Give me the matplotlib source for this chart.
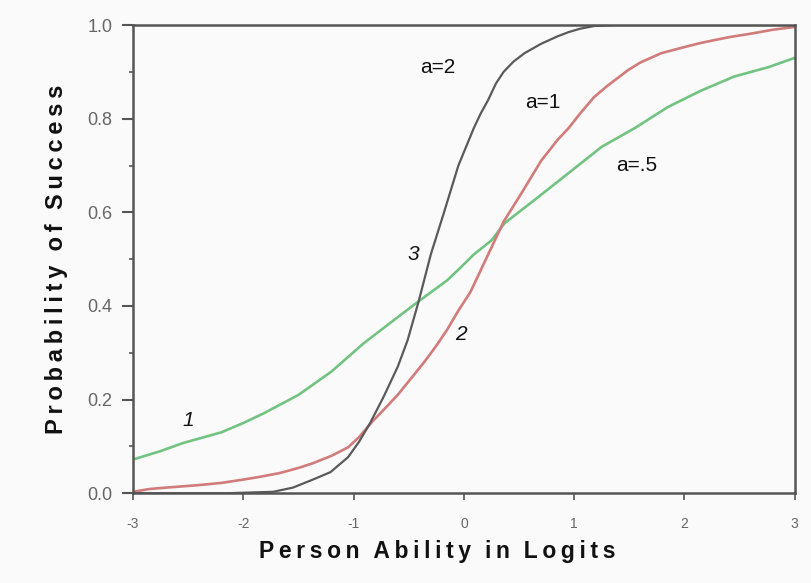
import matplotlib
matplotlib.use("Agg")
import matplotlib.pyplot as plt
from matplotlib.ticker import MultipleLocator

# curves (logits, probability)
x_a2 = [-3.0, -2.15, -1.73, -1.55, -1.36, -1.21, -1.05, -0.95, -0.85, -0.73,
        -0.60, -0.51, -0.41, -0.30, -0.18, -0.05, 0.02, 0.09, 0.15, 0.22,
        0.29, 0.36, 0.45, 0.55, 0.70, 0.85, 0.95, 1.05, 1.18, 1.40, 2.0, 3.0]
p_a2 = [0.0, 0.0, 0.003, 0.012, 0.030, 0.045, 0.077, 0.11, 0.15, 0.205,
        0.27, 0.327, 0.41, 0.51, 0.60, 0.70, 0.74, 0.78, 0.81, 0.84,
        0.875, 0.90, 0.922, 0.94, 0.96, 0.976, 0.985, 0.992, 0.998, 1.0, 1.0, 1.0]

x_a1 = [-3.0, -2.85, -2.7, -2.42, -2.2, -2.03, -1.85, -1.67, -1.5, -1.37,
        -1.2, -1.05, -0.95, -0.83, -0.72, -0.60, -0.48, -0.36, -0.25, -0.15,
        -0.05, 0.06, 0.22, 0.36, 0.52, 0.70, 0.85, 0.95, 1.05, 1.18, 1.30,
        1.49, 1.60, 1.79, 1.95, 2.15, 2.40, 2.61, 2.80, 3.0]
p_a1 = [0.003, 0.009, 0.012, 0.017, 0.022, 0.028, 0.035, 0.043, 0.054, 0.064,
        0.08, 0.098, 0.12, 0.153, 0.18, 0.21, 0.245, 0.28, 0.315, 0.35,
        0.39, 0.43, 0.51, 0.58, 0.64, 0.71, 0.755, 0.78, 0.81, 0.846, 0.87,
        0.904, 0.92, 0.94, 0.95, 0.962, 0.974, 0.982, 0.99, 0.996]

x_a05 = [-3.0, -2.75, -2.55, -2.2, -2.0, -1.82, -1.5, -1.2, -0.91, -0.60,
         -0.41, -0.15, -0.03, 0.09, 0.25, 0.37, 0.66, 0.95, 1.25, 1.55, 1.85,
         2.15, 2.45, 2.76, 3.0]
p_a05 = [0.072, 0.09, 0.107, 0.13, 0.15, 0.17, 0.21, 0.26, 0.32, 0.376,
         0.41, 0.455, 0.482, 0.51, 0.54, 0.577, 0.63, 0.684, 0.74, 0.78, 0.825,
         0.86, 0.89, 0.91, 0.93]

x_ticks = [-3, -2, -1, 0, 1, 2, 3]
y_ticks = [0.0, 0.2, 0.4, 0.6, 0.8, 1.0]

plt.rcParams["font.family"] = ["Liberation Sans", "DejaVu Sans"]
plt.rcParams["axes.unicode_minus"] = False

BG = "#fafafa"
SPINE = "#555555"


def spaced(text):
    # fake letter spacing with thin spaces
    words = text.split(" ")
    return "\u2009\u2009\u2009".join("\u2009".join(w) for w in words)


fig = plt.figure(figsize=(8.11, 5.83), dpi=100, facecolor=BG)
ax = fig.add_axes([0.164, 0.154, 0.816, 0.803])
ax.set_facecolor(BG)

ax.plot(x_a05, p_a05, color="#72c382", linewidth=1.9, solid_joinstyle="round")
ax.plot(x_a1, p_a1, color="#d17b7b", linewidth=1.9, solid_joinstyle="round")
ax.plot(x_a2, p_a2, color="#5a5a5a", linewidth=1.6, solid_joinstyle="round")

ax.set_xlim(-3, 3)
ax.set_ylim(0, 1)
ax.set_xticks(x_ticks)
ax.set_xticklabels([str(t) for t in x_ticks])
ax.set_yticks(y_ticks)
ax.set_yticklabels([f"{t:.1f}" for t in y_ticks])
ax.yaxis.set_minor_locator(MultipleLocator(0.1))

for side in ["left", "bottom", "top", "right"]:
    ax.spines[side].set_color(SPINE)
    ax.spines[side].set_linewidth(1.8)

ax.tick_params(axis="y", which="major", direction="out", length=8, width=1.5,
               color=SPINE, labelcolor="#666666", labelsize=13, pad=7)
ax.tick_params(axis="y", which="minor", direction="out", length=3, width=1.2,
               color=SPINE)
ax.tick_params(axis="x", which="major", direction="out", length=5, width=1.2,
               color=SPINE, labelcolor="#666666", labelsize=10, pad=12)

ax.set_xlabel(spaced("Person Ability in Logits"), fontsize=16.5,
              fontweight="bold", color="#111111", labelpad=8)
ax.xaxis.set_label_coords(0.46, -0.1)
ax.set_ylabel(spaced("Probability of Success"), fontsize=17,
              fontweight="bold", color="#111111", labelpad=14)

ax.text(-0.24, 0.91, "a=2", fontsize=15, color="#111111", ha="center", va="center")
ax.text(0.72, 0.835, "a=1", fontsize=15, color="#111111", ha="center", va="center")
ax.text(1.57, 0.70, "a=.5", fontsize=15, color="#111111", ha="center", va="center")
ax.text(-0.46, 0.51, "3", fontsize=15, style="italic", color="#111111", ha="center", va="center")
ax.text(-0.03, 0.34, "2", fontsize=15, style="italic", color="#111111", ha="center", va="center")
ax.text(-2.5, 0.156, "1", fontsize=15, style="italic", color="#111111", ha="center", va="center")

fig.savefig("out.png", dpi=100, facecolor=BG)
